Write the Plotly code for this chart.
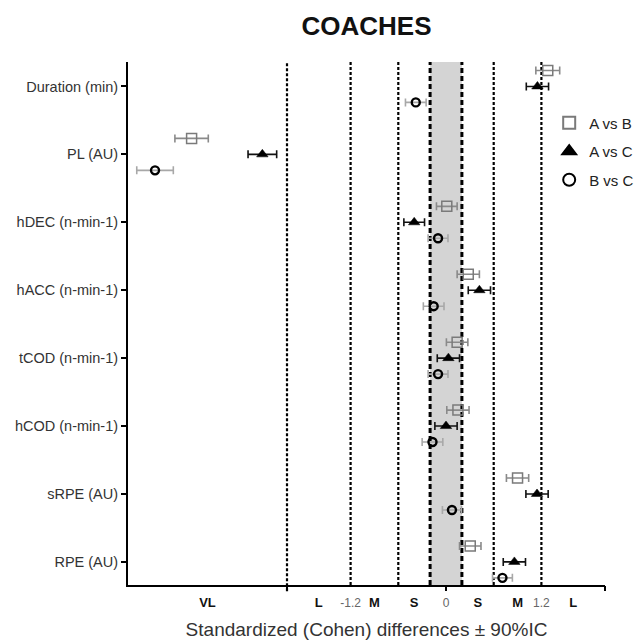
import plotly.graph_objects as go

# Outcome variables, listed top to bottom
variables = ["Duration (min)", "PL (AU)", "hDEC (n-min-1)", "hACC (n-min-1)",
             "tCOD (n-min-1)", "hCOD (n-min-1)", "sRPE (AU)", "RPE (AU)"]

# Standardized (Cohen) differences and 90% CI half-widths
ab_es = [1.28, -3.20, 0.01, 0.28, 0.14, 0.15, 0.90, 0.305]
ab_ci = [0.15, 0.21, 0.13, 0.14, 0.135, 0.14, 0.14, 0.135]
ac_es = [1.15, -2.31, -0.40, 0.42, 0.03, 0.00, 1.145, 0.86]
ac_ci = [0.14, 0.18, 0.13, 0.14, 0.14, 0.14, 0.14, 0.14]
bc_es = [-0.38, -3.66, -0.10, -0.155, -0.10, -0.17, 0.075, 0.71]
bc_ci = [0.13, 0.23, 0.125, 0.13, 0.125, 0.13, 0.12, 0.125]

# Magnitude thresholds and axis labels
thresholds_dotted = [-2.0, -1.2, -0.6, 0.6, 1.2]
thresholds_trivial = [-0.2, 0.2]
tick_vals = [-3.0, -1.6, -1.2, -0.9, -0.4, 0.0, 0.4, 0.9, 1.2, 1.6]
tick_text = ["VL", "L", "-1.2", "M", "S", "0", "S", "M", "1.2", "L"]
numeric_ticks = {"-1.2", "0", "1.2"}

FONT = "Arial, Liberation Sans, sans-serif"
n = len(variables)
base = [n - 1 - i for i in range(n)]
offset = 0.235

fig = go.Figure()

series = [
    ("A vs B", ab_es, ab_ci, offset,
     dict(symbol="square-open", size=10, color="#7a7a7a", line=dict(color="#7a7a7a", width=1.5)),
     "#8a8a8a"),
    ("A vs C", ac_es, ac_ci, 0.0,
     dict(symbol="triangle-up", size=10, color="black", line=dict(color="black", width=0.5)),
     "#111111"),
    ("B vs C", bc_es, bc_ci, -offset,
     dict(symbol="circle-open", size=8, color="black", line=dict(color="black", width=2.4)),
     "#a8a8a8"),
]

for name, es, ci, off, marker, ecolor in series:
    fig.add_trace(go.Scatter(
        x=es, y=[b + off for b in base], mode="markers", name=name,
        legendgroup=name, marker=marker,
        error_x=dict(type="data", array=ci, visible=True, color=ecolor,
                     thickness=1.6, width=4),
        xaxis="x", yaxis="y",
    ))

# Trivial zone shading
fig.add_shape(type="rect", xref="x", yref="paper", x0=thresholds_trivial[0],
              x1=thresholds_trivial[1], y0=0, y1=1, fillcolor="#d4d4d4",
              line=dict(width=0), layer="below")
for t in thresholds_dotted:
    fig.add_shape(type="line", xref="x", yref="paper", x0=t, x1=t, y0=-0.012 if t == -2.0 else 0,
                  y1=1, line=dict(color="black", width=2.2, dash="3px,2px"), layer="below")
for t in thresholds_trivial:
    fig.add_shape(type="line", xref="x", yref="paper", x0=t, x1=t, y0=0, y1=1,
                  line=dict(color="black", width=3, dash="5px,3px"), layer="below")

ticktext_fmt = [
    f"<span style='color:#666666;font-size:12px'>{t}</span>" if t in numeric_ticks
    else f"<b>{t}</b>" for t in tick_text
]

fig.update_layout(
    width=642, height=640,
    margin=dict(l=128, r=37, t=62, b=55, autoexpand=False),
    paper_bgcolor="white", plot_bgcolor="white",
    font=dict(family=FONT, color="#333333"),
    title=dict(text="<b>COACHES</b>", x=0.5, xref="paper", xanchor="center",
               y=0.96, yanchor="middle", font=dict(size=26, color="#111111", family=FONT)),
    xaxis=dict(range=[-4, 2], tickvals=tick_vals, ticktext=ticktext_fmt, ticks="",
               showgrid=False, zeroline=False, showline=True, linecolor="black",
               linewidth=2, tickfont=dict(size=13, color="#111111", family=FONT),
               ticklabelstandoff=4,
               title=dict(text="Standardized (Cohen) differences ± 90%IC",
                          font=dict(size=19, color="#333333", family=FONT), standoff=14)),
    xaxis2=dict(range=[-4, 2], overlaying="x", matches="x", side="bottom", anchor="y",
                tickvals=[-2, 0, 2], ticks="outside", ticklen=5, tickwidth=1.5,
                tickcolor="black", showticklabels=False, showgrid=False,
                zeroline=False, showline=False),
    yaxis=dict(range=[-0.34, 7.36], tickvals=base, ticktext=variables, ticks="outside",
               ticklen=5, tickwidth=2, tickcolor="black", showgrid=False, zeroline=False,
               showline=True, linecolor="black", linewidth=2,
               tickfont=dict(size=14.5, color="#333333", family=FONT)),
    legend=dict(x=0.883, y=0.915, xanchor="left", yanchor="top", bgcolor="rgba(0,0,0,0)",
                font=dict(size=15, color="#222222", family=FONT), tracegroupgap=6,
                itemsizing="constant"),
    showlegend=True,
)

# Invisible trace to bring the secondary tick axis into the figure
fig.add_trace(go.Scatter(x=[None], y=[None], xaxis="x2", yaxis="y", showlegend=False,
                         hoverinfo="skip"))

fig.write_html("out.html")
